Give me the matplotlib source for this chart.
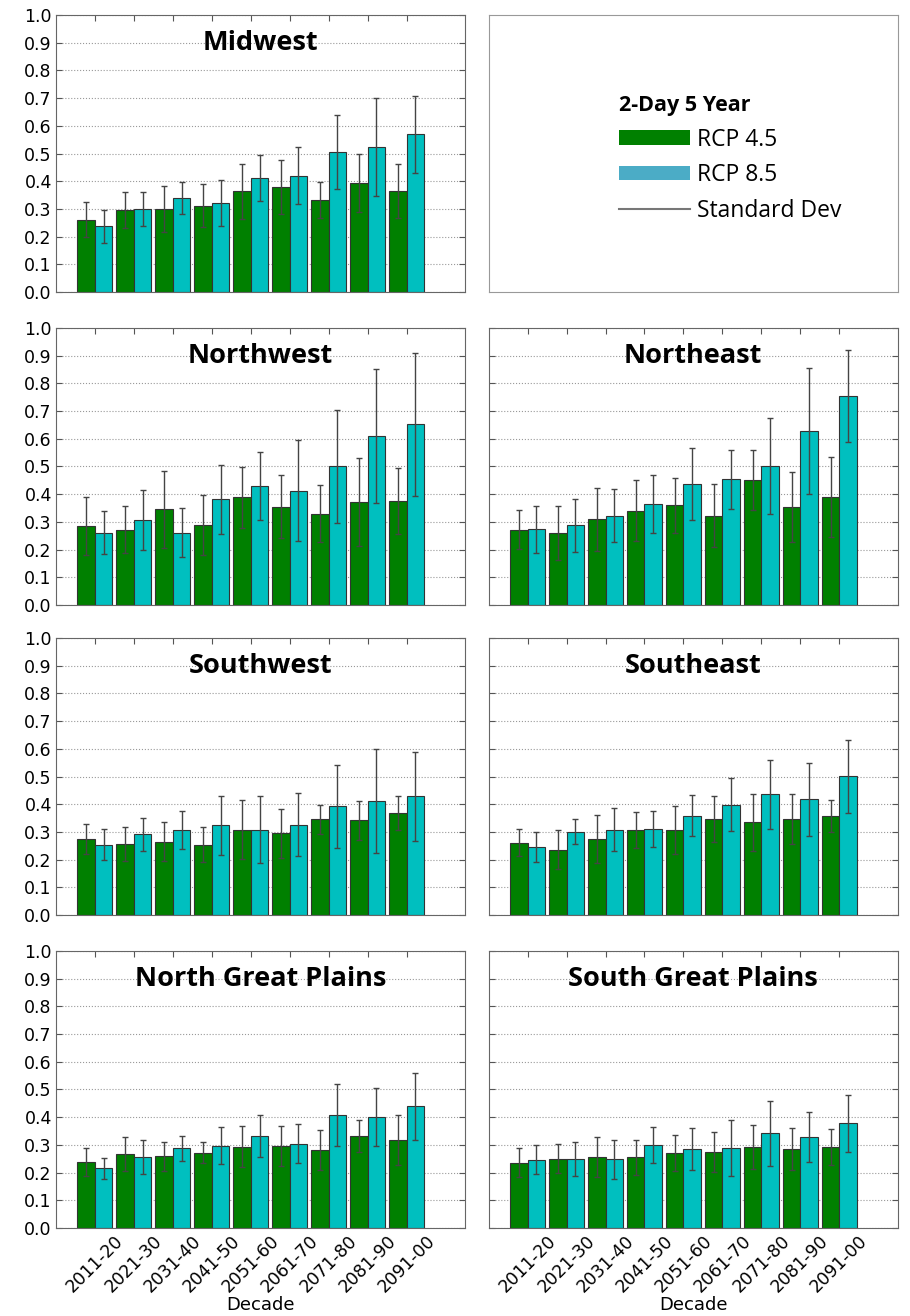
import matplotlib
matplotlib.use("Agg")
import matplotlib.pyplot as plt
import numpy as np
from matplotlib.patches import Patch
from matplotlib.lines import Line2D

decades = ["2011-20", "2021-30", "2031-40", "2041-50", "2051-60",
           "2061-70", "2071-80", "2081-90", "2091-00"]

# mean change and standard deviation per decade, RCP 4.5 / RCP 8.5
midwest_45 = [0.261, 0.297, 0.300, 0.312, 0.363, 0.379, 0.333, 0.395, 0.365]
midwest_45_sd = [0.063, 0.065, 0.083, 0.079, 0.099, 0.098, 0.064, 0.105, 0.098]
midwest_85 = [0.237, 0.300, 0.339, 0.323, 0.412, 0.419, 0.505, 0.523, 0.569]
midwest_85_sd = [0.060, 0.062, 0.058, 0.083, 0.083, 0.103, 0.134, 0.178, 0.140]

northwest_45 = [0.284, 0.271, 0.346, 0.289, 0.388, 0.355, 0.330, 0.372, 0.376]
northwest_45_sd = [0.104, 0.085, 0.139, 0.108, 0.111, 0.113, 0.104, 0.158, 0.119]
northwest_85 = [0.261, 0.306, 0.261, 0.382, 0.430, 0.412, 0.501, 0.610, 0.652]
northwest_85_sd = [0.077, 0.108, 0.088, 0.125, 0.122, 0.182, 0.204, 0.242, 0.257]

northeast_45 = [0.272, 0.261, 0.309, 0.341, 0.360, 0.322, 0.450, 0.353, 0.390]
northeast_45_sd = [0.070, 0.097, 0.115, 0.109, 0.100, 0.114, 0.108, 0.127, 0.143]
northeast_85 = [0.274, 0.287, 0.322, 0.364, 0.436, 0.453, 0.502, 0.628, 0.755]
northeast_85_sd = [0.085, 0.095, 0.096, 0.106, 0.129, 0.105, 0.172, 0.226, 0.165]

southwest_45 = [0.273, 0.256, 0.264, 0.254, 0.308, 0.295, 0.345, 0.342, 0.369]
southwest_45_sd = [0.054, 0.062, 0.070, 0.062, 0.106, 0.089, 0.051, 0.070, 0.061]
southwest_85 = [0.254, 0.291, 0.306, 0.324, 0.307, 0.326, 0.392, 0.412, 0.428]
southwest_85_sd = [0.057, 0.059, 0.068, 0.106, 0.121, 0.113, 0.151, 0.189, 0.160]

southeast_45 = [0.261, 0.236, 0.273, 0.306, 0.308, 0.347, 0.334, 0.347, 0.357]
southeast_45_sd = [0.048, 0.071, 0.087, 0.065, 0.087, 0.082, 0.102, 0.090, 0.058]
southeast_85 = [0.245, 0.301, 0.308, 0.311, 0.359, 0.398, 0.436, 0.418, 0.501]
southeast_85_sd = [0.055, 0.046, 0.077, 0.066, 0.075, 0.096, 0.124, 0.131, 0.132]

ngp_45 = [0.238, 0.267, 0.258, 0.271, 0.294, 0.297, 0.282, 0.331, 0.316]
ngp_45_sd = [0.049, 0.063, 0.051, 0.038, 0.075, 0.072, 0.072, 0.058, 0.090]
ngp_85 = [0.216, 0.256, 0.287, 0.297, 0.333, 0.304, 0.408, 0.400, 0.439]
ngp_85_sd = [0.038, 0.062, 0.045, 0.067, 0.076, 0.070, 0.113, 0.105, 0.120]

sgp_45 = [0.236, 0.250, 0.257, 0.255, 0.269, 0.274, 0.292, 0.285, 0.292]
sgp_45_sd = [0.052, 0.053, 0.072, 0.063, 0.065, 0.073, 0.079, 0.076, 0.065]
sgp_85 = [0.246, 0.248, 0.248, 0.299, 0.284, 0.287, 0.341, 0.329, 0.378]
sgp_85_sd = [0.052, 0.062, 0.070, 0.065, 0.076, 0.101, 0.116, 0.091, 0.103]

GREEN = "#008000"
CYAN = "#00bfbf"

plt.rcParams["font.family"] = "DejaVu Sans"
plt.rcParams["xtick.direction"] = "in"
plt.rcParams["ytick.direction"] = "in"
plt.rcParams["xtick.top"] = True
plt.rcParams["ytick.right"] = True

fig = plt.figure(figsize=(9.1, 13.16), dpi=100)

W = 0.4495
H = 0.2105
col_left = [0.0615, 0.537]
row_bottom = [0.7781, 0.5403, 0.3047, 0.0669]


def panel(ax, title, v45, sd45, v85, sd85, show_y, show_x):
    x = np.arange(len(decades))
    w = 0.45
    ax.bar(x - w / 2, v45, w, color=GREEN, edgecolor="#333333", linewidth=0.8,
           yerr=sd45, ecolor="#444444", error_kw=dict(elinewidth=1, capsize=2.5, capthick=1), zorder=2)
    ax.bar(x + w / 2, v85, w, color=CYAN, edgecolor="#333333", linewidth=0.8,
           yerr=sd85, ecolor="#444444", error_kw=dict(elinewidth=1, capsize=2.5, capthick=1), zorder=2)
    ax.set_xlim(-1, 9.5)
    ax.set_ylim(0, 1.0)
    ax.set_yticks(np.arange(0, 1.01, 0.1))
    ax.yaxis.grid(True, linestyle=":", color="#999999", linewidth=0.8, zorder=0)
    ax.set_axisbelow(True)
    ax.set_xticks(x)
    ax.tick_params(length=4, color="#555555", labelsize=12.5, pad=3)
    for s in ax.spines.values():
        s.set_color("#666666")
    if show_y:
        ax.set_yticklabels(["%.1f" % v for v in np.arange(0, 1.01, 0.1)])
    else:
        ax.set_yticklabels([])
    if show_x:
        ax.set_xticklabels(decades, rotation=45, ha="center")
        ax.set_xlabel("Decade", fontsize=13, labelpad=0)
    else:
        ax.set_xticklabels([])
    ax.text(0.5, 0.9, title, transform=ax.transAxes, ha="center", va="center",
            fontsize=19.5, fontweight="bold", family="Open Sans")


regions = [
    (0, 0, "Midwest", midwest_45, midwest_45_sd, midwest_85, midwest_85_sd),
    (1, 0, "Northwest", northwest_45, northwest_45_sd, northwest_85, northwest_85_sd),
    (1, 1, "Northeast", northeast_45, northeast_45_sd, northeast_85, northeast_85_sd),
    (2, 0, "Southwest", southwest_45, southwest_45_sd, southwest_85, southwest_85_sd),
    (2, 1, "Southeast", southeast_45, southeast_45_sd, southeast_85, southeast_85_sd),
    (3, 0, "North Great Plains", ngp_45, ngp_45_sd, ngp_85, ngp_85_sd),
    (3, 1, "South Great Plains", sgp_45, sgp_45_sd, sgp_85, sgp_85_sd),
]

for r, c, title, a, asd, b, bsd in regions:
    ax = fig.add_axes([col_left[c], row_bottom[r], W, H])
    panel(ax, title, a, asd, b, bsd, show_y=(c == 0), show_x=(r == 3))

# legend box in the empty top-right slot
lax = fig.add_axes([col_left[1], row_bottom[0], W, H])
lax.set_xticks([])
lax.set_yticks([])
for s in lax.spines.values():
    s.set_color("#999999")
handles = [
    Patch(facecolor=GREEN, edgecolor="none", label="RCP 4.5"),
    Patch(facecolor="#4bacc6", edgecolor="none", label="RCP 8.5"),
    Line2D([0], [0], color="#777777", lw=1.5, label="Standard Dev"),
]
leg = lax.legend(handles=handles, loc="center", bbox_to_anchor=(0.59, 0.48),
                 frameon=False, title="2-Day 5 Year", alignment="left",
                 prop={"family": "Open Sans", "size": 16.5},
                 title_fontproperties={"family": "Open Sans", "size": 15.5, "weight": "bold"},
                 handlelength=3.1, handleheight=0.6, handletextpad=0.3,
                 labelspacing=0.5)

fig.savefig("out.png", dpi=100, facecolor="white")
